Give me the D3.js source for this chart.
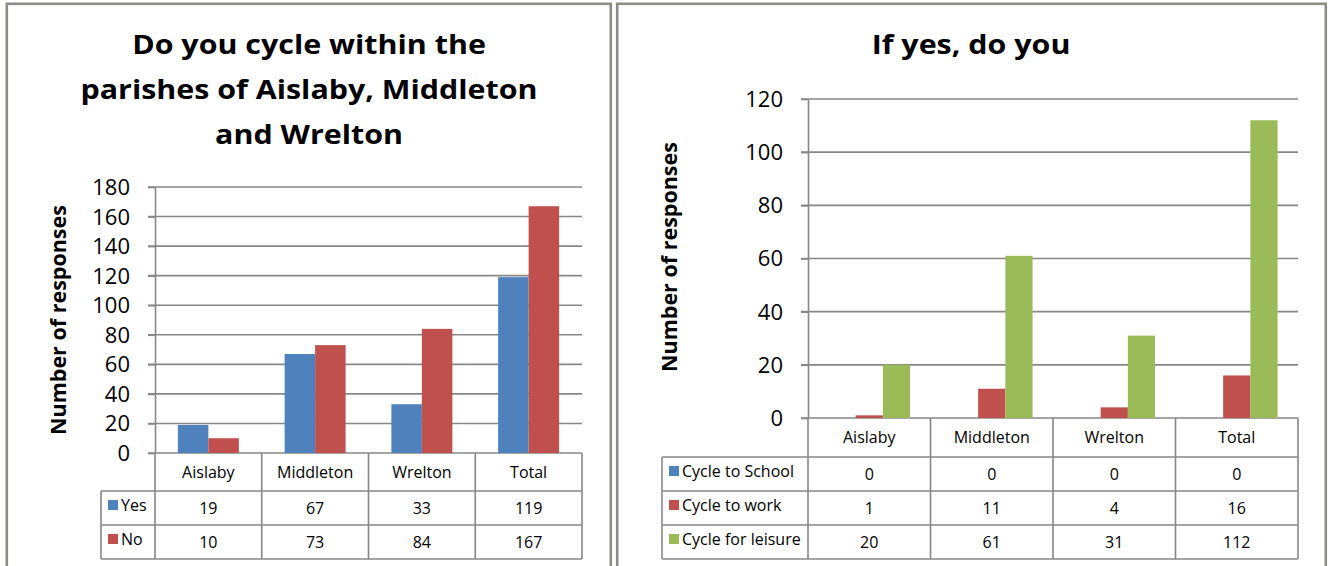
<!DOCTYPE html>
<html>
<head>
<meta charset="utf-8">
<script src="https://cdn.jsdelivr.net/npm/d3@7/dist/d3.min.js"></script>
<style>
  html, body { margin: 0; padding: 0; background: #ffffff; }
  svg { display: block; font-family: "Open Sans", "Noto Sans", sans-serif; }
</style>
</head>
<body>
<svg id="chart" width="1332" height="566"></svg>
<script>
// ---------------- DATA ----------------
const categories = ["Aislaby", "Middleton", "Wrelton", "Total"];

const leftTitleLines = ["Do you cycle within the", "parishes of Aislaby, Middleton", "and Wrelton"];
const leftSeriesNames = ["Yes", "No"];
const leftYes = [19, 67, 33, 119];
const leftNo = [10, 73, 84, 167];
const leftTicks = [0, 20, 40, 60, 80, 100, 120, 140, 160, 180];

const rightTitleLines = ["If yes, do you"];
const rightSeriesNames = ["Cycle to School", "Cycle to work", "Cycle for leisure"];
const rightSchool = [0, 0, 0, 0];
const rightWork = [1, 11, 4, 16];
const rightLeisure = [20, 61, 31, 112];
const rightTicks = [0, 20, 40, 60, 80, 100, 120];

const yAxisTitle = "Number of responses";
const seriesColors = ["#4F81BD", "#C0504D", "#9BBB59"];

// ---------------- DRAW ----------------
const svg = d3.select("#chart");
const GRID = "#878787";
const BORDER = "#8c8c88";

function drawPanel(cfg) {
  const g = svg.append("g");

  // panel border
  g.append("rect")
    .attr("x", cfg.panel[0]).attr("y", cfg.panel[1])
    .attr("width", cfg.panel[2] - cfg.panel[0]).attr("height", 600)
    .attr("fill", "#fff").attr("stroke", BORDER).attr("stroke-width", 2.6);

  // title (horizontally stretched like the source)
  cfg.titleLines.forEach((line, i) => {
    g.append("text")
      .attr("transform", `translate(${cfg.titleX},${cfg.titleY0 + i * 45}) scale(1.17,1)`)
      .attr("text-anchor", "middle")
      .attr("font-size", 26).attr("font-weight", "bold").attr("fill", "#000")
      .text(line);
  });

  const x = d3.scaleBand().domain(categories).range([cfg.x0, cfg.x1]).paddingInner(0).paddingOuter(0);
  const y = d3.scaleLinear().domain([0, cfg.yMax]).range([cfg.yBottom, cfg.yTop]);
  const n = cfg.series.length;
  const bw = x.bandwidth() / (n + 1.5);
  const xs = d3.scaleBand().domain(d3.range(n)).range([bw * 0.75, bw * 0.75 + bw * n]);

  // gridlines
  g.append("g").selectAll("line").data(cfg.ticks).join("line")
    .attr("x1", cfg.x0 - 7).attr("x2", cfg.x1)
    .attr("y1", d => y(d)).attr("y2", d => y(d))
    .attr("stroke", GRID).attr("stroke-width", 1.6);

  // axis (labels + vertical line)
  const axis = d3.axisLeft(y).tickValues(cfg.ticks).tickSize(7).tickSizeOuter(0).tickPadding(18);
  const ax = g.append("g").attr("transform", `translate(${cfg.x0},0)`).call(axis);
  ax.select(".domain").attr("stroke", GRID).attr("stroke-width", 1.6);
  ax.selectAll(".tick line").attr("stroke", GRID).attr("stroke-width", 1.6);
  ax.selectAll(".tick text").attr("font-size", 22).attr("fill", "#000")
    .attr("font-family", "Open Sans, sans-serif").attr("dy", "0.34em");

  // bars
  cfg.series.forEach((s, si) => {
    g.append("g").selectAll("rect").data(s.values).join("rect")
      .attr("x", (d, i) => x(categories[i]) + xs(si))
      .attr("width", bw)
      .attr("y", d => y(d))
      .attr("height", d => y(0) - y(d))
      .attr("fill", seriesColors[si]);
  });

  // y axis title
  g.append("text")
    .attr("transform", `translate(${cfg.yTitleX},${cfg.yTitleY}) rotate(-90)`)
    .attr("text-anchor", "middle")
    .attr("font-size", 21.5).attr("font-weight", "bold").attr("fill", "#000")
    .text(yAxisTitle);

  // data table
  const tb = g.append("g");
  const rowTops = cfg.rowTops; // header top, row tops..., bottom
  const headerTop = rowTops[0], headerBottom = rowTops[1], tableBottom = rowTops[rowTops.length - 1];
  const lineAttr = sel => sel.attr("stroke", GRID).attr("stroke-width", 1.6);

  // horizontal lines
  for (let r = 1; r < rowTops.length; r++) {
    tb.append("line").attr("x1", cfg.legendLeft).attr("x2", cfg.x1)
      .attr("y1", rowTops[r]).attr("y2", rowTops[r]).call(lineAttr);
  }
  // vertical column lines
  categories.forEach((c, i) => {
    if (i > 0) tb.append("line").attr("x1", x(c)).attr("x2", x(c))
      .attr("y1", headerTop).attr("y2", tableBottom).call(lineAttr);
  });
  tb.append("line").attr("x1", cfg.x0).attr("x2", cfg.x0).attr("y1", headerTop).attr("y2", tableBottom).call(lineAttr);
  tb.append("line").attr("x1", cfg.x1).attr("x2", cfg.x1).attr("y1", headerTop).attr("y2", tableBottom).call(lineAttr);
  tb.append("line").attr("x1", cfg.legendLeft).attr("x2", cfg.legendLeft).attr("y1", headerBottom).attr("y2", tableBottom).call(lineAttr);

  // header text
  tb.selectAll("text.hdr").data(categories).join("text")
    .attr("class", "hdr")
    .attr("x", d => x(d) + x.bandwidth() / 2)
    .attr("y", (headerTop + headerBottom) / 2)
    .attr("dy", "0.36em")
    .attr("text-anchor", "middle").attr("font-size", 16).attr("fill", "#000")
    .text(d => d);

  // rows
  cfg.series.forEach((s, si) => {
    const top = rowTops[si + 1], bot = rowTops[si + 2];
    const cy = (top + bot) / 2;
    tb.append("rect").attr("x", cfg.legendLeft + 7).attr("y", cy - 8)
      .attr("width", 10).attr("height", 10).attr("fill", seriesColors[si]);
    tb.append("text").attr("x", cfg.legendLeft + 20).attr("y", cy - 3).attr("dy", "0.36em")
      .attr("font-size", 16).attr("fill", "#000").text(s.name);
    tb.selectAll(null).data(s.values).join("text")
      .attr("x", (d, i) => x(categories[i]) + x.bandwidth() / 2)
      .attr("y", cy).attr("dy", "0.36em")
      .attr("text-anchor", "middle").attr("font-size", 16).attr("fill", "#000")
      .text(d => d);
  });
}

drawPanel({
  panel: [6.8, 3.8, 610.8],
  titleLines: leftTitleLines, titleX: 309, titleY0: 54,
  x0: 155, x1: 582, yTop: 187, yBottom: 453, yMax: 180, ticks: leftTicks,
  yTitleX: 65.5, yTitleY: 320,
  legendLeft: 101,
  rowTops: [453, 491, 525, 559],
  series: [
    { name: leftSeriesNames[0], values: leftYes },
    { name: leftSeriesNames[1], values: leftNo }
  ]
});

drawPanel({
  panel: [617.2, 3.8, 1325.8],
  titleLines: rightTitleLines, titleX: 971, titleY0: 54,
  x0: 808, x1: 1298, yTop: 99, yBottom: 418, yMax: 120, ticks: rightTicks,
  yTitleX: 677, yTitleY: 257,
  legendLeft: 662,
  rowTops: [418, 457, 491, 525, 559],
  series: [
    { name: rightSeriesNames[0], values: rightSchool },
    { name: rightSeriesNames[1], values: rightWork },
    { name: rightSeriesNames[2], values: rightLeisure }
  ]
});
</script>
</body>
</html>
